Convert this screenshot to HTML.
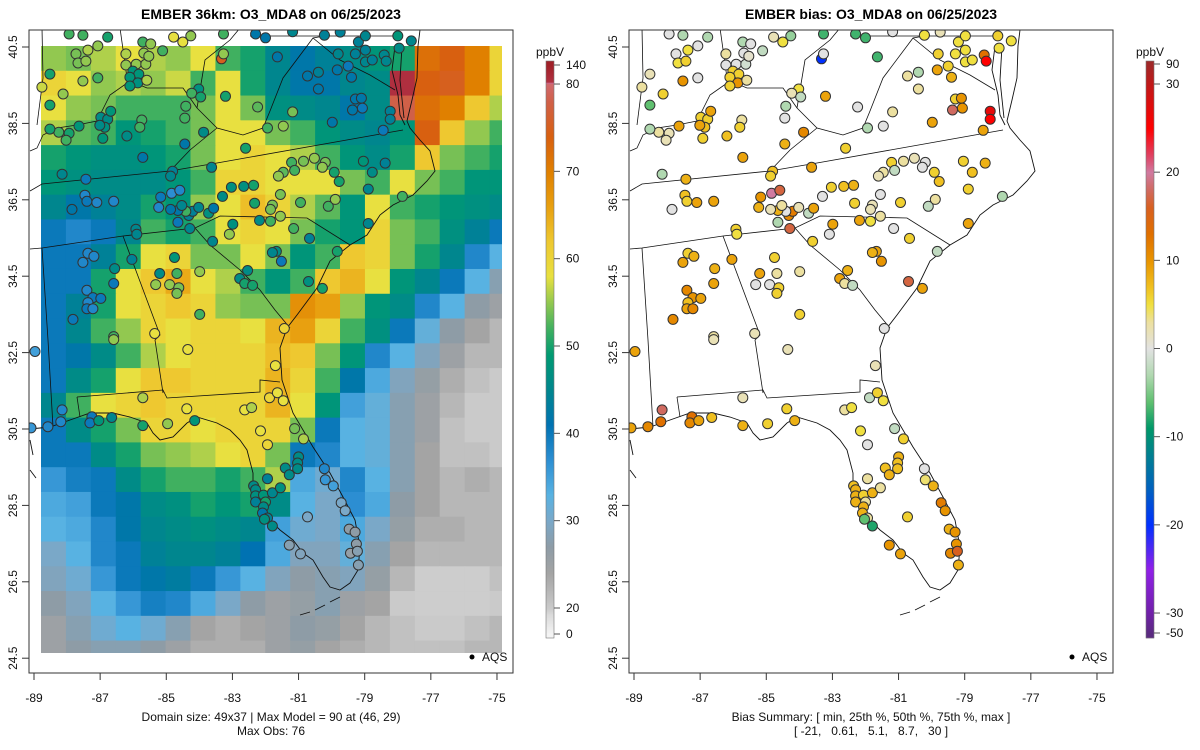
<!DOCTYPE html>
<html><head><meta charset="utf-8"><title>EMBER O3_MDA8</title>
<style>
html,body{margin:0;padding:0;background:#fff;}
svg{display:block;font-family:"Liberation Sans",Arial,sans-serif;}
.pre{white-space:pre;}
</style></head>
<body>
<svg id="fig" width="1200" height="750" viewBox="0 0 1200 750" xmlns="http://www.w3.org/2000/svg">
<defs>
<clipPath id="clipL"><rect x="29" y="30" width="484" height="643"/></clipPath>
<clipPath id="clipR"><rect x="629" y="30" width="484" height="643"/></clipPath>
<clipPath id="clipG"><rect x="41" y="46" width="461" height="607"/></clipPath>
</defs>
<g id="left"></g>
<g id="right"></g>
</svg>
<script>
// ---------- model grid (coarse 19 cols x 25 rows, ppbV) ----------
const gridRows = [
[55,54,56,58,56,55,58,52,50,45,42,44,46,48,50,72,74,70,60],
[60,58,55,56,55,57,52,58,50,45,42,42,45,46,90,74,75,70,60],
[58,55,54,52,52,52,54,58,54,47,46,45,42,46,78,72,70,62,56],
[56,53,52,48,50,52,54,58,58,54,52,48,46,45,48,74,62,55,52],
[50,48,47,47,48,50,54,58,60,58,56,52,48,46,50,62,54,52,50],
[48,47,46,46,46,48,52,60,60,58,58,58,54,52,58,54,52,48,48],
[45,42,44,46,50,48,55,58,63,60,56,53,48,58,52,50,48,47,46],
[40,38,40,45,52,50,52,58,60,58,54,50,48,60,54,52,47,44,40],
[40,40,44,50,58,60,54,54,58,54,48,52,62,60,54,50,45,38,33],
[40,40,50,58,62,65,58,56,52,48,52,62,64,58,48,45,40,33,28],
[40,44,50,58,60,62,60,55,54,54,68,66,55,48,46,38,33,27,25],
[40,45,52,55,60,58,60,60,58,64,66,60,52,47,40,32,27,24,22],
[40,42,46,52,56,58,60,60,60,63,62,54,48,38,33,29,25,22,22],
[40,46,50,58,62,62,60,60,60,64,60,52,42,34,29,26,23,21,20],
[45,52,58,60,62,60,60,60,60,64,58,48,35,32,28,25,22,20,20],
[40,46,50,54,60,60,58,60,60,60,54,40,33,32,28,25,21,20,20],
[40,40,46,50,54,55,56,58,60,54,40,38,33,32,28,24,21,21,20],
[36,39,40,46,50,52,52,50,52,56,34,31,38,33,28,24,22,23,22],
[34,35,40,42,46,47,50,48,50,46,33,30,37,34,27,24,22,22,22],
[33,34,38,42,45,46,47,46,45,35,31,30,34,30,26,23,23,22,22],
[30,33,38,40,44,45,45,44,41,34,29,29,32,28,24,22,22,22,22],
[29,31,36,40,42,43,40,36,33,29,27,28,29,26,22,19,19,19,21],
[27,29,33,36,39,38,34,30,27,25,26,28,25,24,20,19,19,19,20],
[25,28,31,33,31,28,24,23,24,25,27,26,24,22,21,20,20,21,22],
[25,27,28,28,27,25,23,23,23,25,26,24,23,22,21,21,21,22,22]
];
// ---------- AQS stations ----------
const stLon = [-87.94,-87.52,-86.77,-87.07,-87.37,-87.73,-87.67,-87.43,-88.52,-88.76,-87.52,-87.07,-88.12,-88.52,
-86.98,-86.77,-86.68,-86.86,-87.01,-86.92,-87.64,-87.94,-88.25,-88.52,-88.03,
-86.22,-85.71,-85.47,-85.68,-85.11,-86.22,-85.91,-85.62,-85.53,-86.01,-85.83,-86.10,-85.86,-86.10,-85.59,
-84.78,-84.50,-84.26,-83.27,-83.33,-83.27,-84.02,-84.23,-83.96,-83.21,-84.41,-84.44,-85.74,-85.80,-86.19,-83.87,-84.44,-85.71,
-88.15,-87.43,-84.81,-84.87,-83.63,-82.60,-82.24,-81.94,-81.46,-81.18,-81.64,-82.30,-82.00,-81.18,-80.73,-80.40,-80.40,-80.22,-79.74,-79.80,-79.83,-79.50,-79.40,-79.28,-79.19,-78.98,-78.98,-78.77,-78.98,-78.41,-78.35,-78.00,-77.59,-77.96,-79.28,-79.10,-79.07,-79.37,-78.23,-78.23,-78.44,-79.98,
-79.04,-78.38,-78.77,-78.89,-77.86,-81.21,-80.85,-80.52,-80.19,-80.28,-81.12,-81.46,-81.61,-79.92,-79.77,-81.55,-81.79,-81.85,-82.33,-82.36,-82.66,-83.03,-83.30,-80.94,-80.10,-79.89,-81.55,-81.85,-82.18,-82.99,-81.15,-80.67,-79.83,-78.89,-81.67,-81.79,-81.52,-80.70,-80.28,-82.54,-82.78,-82.63,-82.39,-83.09,-83.60,-84.29,-84.32,-84.20,-84.41,-84.65,-84.53,-84.87,-84.02,-83.72,-83.57,-84.65,-85.23,-85.17,-84.84,-84.59,
-85.92,-85.89,-86.59,-87.10,-87.46,-87.40,-87.85,-87.37,-87.19,-87.52,-86.56,-86.59,-86.04,-87.40,-87.22,-86.98,-87.37,-87.40,-87.22,-87.82,-86.59,-85.35,-84.75,-85.20,-84.68,-85.32,-84.90,-84.62,-84.68,-83.99,-83.99,-81.43,
-88.97,-86.59,-84.35,-81.70,-85.71,-84.38,-88.15,-88.19,-88.58,-89.09,-87.25,-87.31,-87.04,-86.65,-85.71,-84.96,-84.14,-82.63,-82.42,-81.88,-81.64,-81.46,-82.15,-81.94,-81.12,-80.85,-81.00,-81.03,-81.03,-81.40,-81.28,-81.94,-80.22,-80.19,-79.95,-79.71,-79.59,-82.36,-82.30,-82.30,-82.06,-82.00,-82.30,-82.06,-81.79,-81.55,-82.09,-81.94,-82.03,-81.79,-80.73,-81.28,-80.94,-79.47,-79.29,-79.25,-79.43,-79.22,-79.19];
const stLat = [40.84,40.81,40.76,40.53,40.42,40.32,40.08,40.13,39.79,39.45,39.61,39.69,39.27,38.98,
38.66,38.61,38.82,38.40,38.45,38.11,38.43,38.24,38.27,38.35,38.06,
40.32,40.63,40.58,40.34,40.40,40.03,40.05,40.05,40.26,39.87,39.79,39.71,39.56,39.48,39.63,
40.76,40.63,40.79,40.84,40.19,40.32,39.40,39.29,39.19,39.21,38.95,38.64,38.59,38.40,38.17,38.27,37.96,37.61,
37.17,37.04,37.25,37.12,37.35,37.85,38.93,38.38,38.43,38.80,40.24,40.84,40.74,40.90,39.74,39.84,39.40,40.81,40.89,40.32,39.90,40.00,39.71,40.32,40.63,40.42,40.11,40.16,40.79,40.29,40.13,40.79,40.66,40.47,39.14,39.16,38.90,38.85,38.82,38.61,38.32,38.53,
37.51,37.46,37.22,36.78,36.59,37.48,37.51,37.59,37.48,37.35,37.27,37.22,37.12,37.22,36.98,36.64,36.36,36.25,36.41,36.88,36.85,36.83,36.59,36.43,36.33,36.51,36.07,35.94,35.96,35.86,35.75,35.49,35.15,35.88,35.15,35.12,34.89,34.36,34.18,34.65,34.44,34.31,34.26,35.60,35.41,35.75,36.09,36.20,36.20,36.22,36.35,36.25,36.30,36.15,36.28,35.91,36.30,36.57,36.67,36.75,
35.73,35.60,36.46,36.43,36.62,36.46,36.25,35.10,35.02,34.86,34.70,34.31,34.94,34.13,33.94,33.92,33.81,33.65,33.65,33.37,32.92,33.00,34.99,34.57,34.57,34.28,34.28,34.20,34.05,34.62,33.50,33.13,
32.53,32.84,32.58,32.16,31.32,31.03,31.00,30.69,30.56,30.53,30.82,30.66,30.72,30.80,30.59,30.64,30.72,31.00,31.06,31.32,31.45,31.24,30.45,30.09,30.51,30.24,29.77,29.61,29.46,29.48,29.30,29.20,29.46,29.17,29.01,28.57,28.36,29.01,28.91,28.75,28.77,28.59,28.59,28.46,28.83,28.96,28.30,28.17,28.14,27.96,28.20,27.46,27.23,27.88,27.80,27.49,27.25,27.30,26.94];
const stObs = [52,52,50,55,56,54,54,55,50,57,55,52,55,50,
46,46,48,47,46,48,48,50,52,50,52,
56,52,55,55,52,55,55,55,55,48,48,48,47,48,56,
58,58,55,52,75,55,47,52,50,50,52,52,52,52,46,46,42,42,
45,40,44,45,45,50,53,52,55,54,42,42,42,45,42,44,42,44,44,45,42,40,42,44,44,44,45,44,45,45,45,48,45,46,42,42,40,42,44,44,40,42,
48,44,46,45,52,52,54,55,54,55,52,53,55,50,50,54,54,54,50,50,47,47,46,52,52,55,55,52,46,47,52,44,50,45,46,45,40,47,50,46,46,50,50,55,45,45,44,44,52,42,45,42,45,47,42,40,38,40,37,38,
45,45,38,38,38,40,42,38,38,38,46,40,44,38,40,40,38,40,38,40,52,58,48,46,52,55,55,54,54,55,52,60,
35,55,58,58,56,58,38,38,38,36,40,40,48,45,50,55,48,58,56,60,58,58,58,60,54,56,46,46,46,46,46,44,38,36,35,30,30,46,46,47,48,50,44,46,45,47,42,44,47,46,30,28,29,27,27,27,26,28,28];
const stBias = [0,-3,-3,0,5,0,5,6,2,3,10,0,6,-6,
6,6,9,7,9,6,9,2,3,-3,2,
3,-3,0,0,-2,0,0,-1,1,6,6,6,10,6,3,
2,5,-4,-7,-20,0,5,2,-2,9,-3,0,3,6,7,11,8,9,
-3,8,7,6,9,6,0,-3,0,3,-7,-7,-7,0,3,-3,3,5,2,6,9,6,8,5,5,5,5,5,5,13,25,6,5,5,6,10,10,18,27,25,9,9,
6,8,7,6,-3,6,3,2,0,0,-2,3,2,6,7,0,2,2,6,8,7,6,0,6,-2,3,3,5,9,9,0,6,-2,9,9,8,10,17,9,8,9,3,-2,0,6,17,11,12,0,8,3,2,2,-2,9,-3,8,10,20,17,
6,5,9,9,7,6,0,6,8,9,8,9,9,11,10,9,7,9,11,11,3,2,6,9,3,0,0,6,6,3,6,0,
9,2,2,2,2,6,18,13,11,9,13,11,9,7,8,6,8,3,5,-2,6,5,5,0,-2,6,8,7,7,7,8,3,0,4,8,12,10,7,8,8,6,3,8,8,8,3,8,3,-6,-8,6,10,9,8,10,10,11,16,8];
// ---------- axes tick labels ----------
const lonTicks = [-89,-87,-85,-83,-81,-79,-77,-75];
const latTicks = [40.5,38.5,36.5,34.5,32.5,30.5,28.5,26.5,24.5];
const ppbTickVals = [140,80,70,60,50,40,30,20,0];
const biasTickVals = [90,30,20,10,0,-10,-20,-30,-50];

// ---------- scales ----------
const NS='http://www.w3.org/2000/svg';
function xLon(lon,off){return off+34+(lon+89)*33.07;}
function yLat(lat){return 47+(40.5-lat)*38.2;}
function hex2rgb(h){return [parseInt(h.substr(1,2),16),parseInt(h.substr(3,2),16),parseInt(h.substr(5,2),16)];}
function interp(stops,v){
  if(v<=stops[0][0])return stops[0][1];
  for(let i=1;i<stops.length;i++){
    if(v<=stops[i][0]){
      const t=(v-stops[i-1][0])/(stops[i][0]-stops[i-1][0]);
      const a=hex2rgb(stops[i-1][1]),b=hex2rgb(stops[i][1]);
      return 'rgb('+a.map((c,k)=>Math.round(c+(b[k]-c)*t)).join(',')+')';
    }
  }
  return stops[stops.length-1][1];
}
const ppbStops=[[0,'#f4f4f4'],[15,'#dadada'],[20,'#cacaca'],[24,'#a4a4a4'],[27,'#8e9ca6'],[30,'#7aa8c8'],[33,'#58b2e2'],[37,'#2c8ed2'],[41,'#0072b2'],[45,'#00868e'],[49,'#009a72'],[52,'#40b060'],[55,'#92c850'],[58,'#e8e040'],[62,'#eec830'],[66,'#e8a010'],[70,'#e08000'],[74,'#d86010'],[78,'#d06048'],[82,'#d07090'],[88,'#b03040'],[140,'#a02028']];
const biasStops=[[-50,'#5a2a80'],[-30,'#7020a8'],[-25,'#9020e8'],[-20,'#0030ff'],[-16,'#0060c0'],[-12,'#008090'],[-9,'#009868'],[-6,'#60c070'],[-3,'#b0d8b0'],[0,'#e2e2e2'],[3,'#ece0a0'],[5,'#f0e040'],[7,'#f0c020'],[10,'#e89400'],[13,'#e07000'],[16,'#d86020'],[18,'#d06a60'],[20,'#d07aa0'],[22,'#e04060'],[25,'#ff0000'],[30,'#c01818'],[90,'#a02828']];
function ppbY(v){ if(v<=20) return 634-v/20*26; if(v<=80) return 608-(v-20)*8.733; return 84-(v-80)/60*19; }
function biasY(v){ if(v>=30) return 84-(v-30)/60*20; if(v>=-30) return 84+(30-v)*8.817; return 613+(-30-v)/20*20; }

function el(tag,attrs,parent,txt){const e=document.createElementNS(NS,tag);for(const k in attrs)e.setAttribute(k,attrs[k]);if(txt!==undefined)e.textContent=txt;parent.appendChild(e);return e;}

// map geometry (left-panel pixel coords)
const coast="M420,30 L418,46 417,78 412,100 407,121 410,128 420,140 430,151 435,171 427,181 413,195 393,205 380,215 367,235 350,245 330,261 317,288 297,315 287,328 280,348 282,380 293,413 313,447 330,473 343,497 355,520 360,547 358,570 350,583 340,590 330,587 323,577 313,560 303,553 293,540 280,530 270,520 263,507 253,487 253,473 247,450 240,440 230,430 217,423 197,417 187,423 173,437 160,440 153,433 147,423 130,417 113,413 90,413 70,420 50,427 30,429 M395,46 L392,70 398,95 400,115 405,125 M402,46 L400,80 404,118 M340,597 L330,602 M325,605 L315,610 M310,612 L300,615 M30,440 L33,455 M30,470 L36,478";
const states="M30,191 L42,184 170,171 217,163 403,130 M30,249 L42,248 123,236 195,228 220,216 307,218 350,245 M195,228 L210,245 240,270 260,290 275,310 290,328 M123,236 L160,335 155,340 163,393 M77,397 L80,417 M77,397 L163,390 167,398 260,392 260,380 280,382 M42,248 L48,340 53,427 M170,171 L190,150 217,128 M197,108 L217,128 243,135 263,128 270,111 283,78 313,38 330,35 M197,108 L183,88 147,88 130,81 110,95 97,121 77,125 57,128 43,135 37,148 30,151 M120,28 L127,78 M42,28 L43,78 37,125 M250,36 L395,36 M197,108 L205,60 230,40 240,28 M313,38 L340,60 370,75 395,90";

function drawPanel(gid,off,isBias){
  const g=document.getElementById(gid);
  const cg=el('g',{'clip-path':isBias?'url(#clipR)':'url(#clipL)'},g);
  if(!isBias){
    const gg=el('g',{'clip-path':'url(#clipG)'},cg);
    
    
    const cw=461/37*2, ch=607/49*2;
    gridRows.forEach((row,r)=>row.forEach((v,c)=>{
      const rc=el('rect',{x:(41+c*cw).toFixed(2),y:(46+r*ch).toFixed(2),width:(cw+0.6).toFixed(2),height:(ch+0.6).toFixed(2),fill:interp(ppbStops,v)},gg);
      
      
    }));
  }
  const ml=el('g',{transform:'translate('+off+',0)',fill:'none',stroke:'#111','stroke-width':'0.9'},cg);
  const p1=el('path',{d:coast},ml);
  
  
  const p2=el('path',{d:states,'stroke-width':'0.8'},ml);
  
  
  const sg=el('g',{stroke:'#333','stroke-width':'1'},cg);
  
  
  for(let i=0;i<stLon.length;i++){
    const v=isBias?stBias[i]:stObs[i];
    const c=el('circle',{cx:xLon(stLon[i],off).toFixed(1),cy:yLat(stLat[i]).toFixed(1),r:5,fill:isBias?interp(biasStops,v):interp(ppbStops,v)},sg);
    
    
  }
  const fr=el('rect',{x:29+off,y:30,width:484,height:643,fill:'none',stroke:'#333','stroke-width':'1'},g);
  
  
  lonTicks.forEach(t=>{
    const x=xLon(t,off);
    el('line',{x1:x,y1:673,x2:x,y2:680,stroke:'#333'},g);
    const tx=el('text',{x:x,y:702,'font-size':'12','text-anchor':'middle',fill:'#111'},g,String(t));
    
    
  });
  latTicks.forEach(t=>{
    const y=yLat(t);
    el('line',{x1:22+off,y1:y,x2:29+off,y2:y,stroke:'#333'},g);
    const tx=el('text',{x:0,y:0,'font-size':'12','text-anchor':'middle',fill:'#111',transform:'translate('+(17+off)+','+y+') rotate(-90)'},g,t.toFixed(1));
    
    
  });
  const lg=el('g',{},g);
  
  
  el('circle',{cx:472+off,cy:657,r:2.5,fill:'#000'},lg);
  el('text',{x:482+off,y:661,'font-size':'12',fill:'#111'},lg,'AQS');
  const tt=el('text',{x:271+off,y:19,'font-size':'14','font-weight':'bold','text-anchor':'middle',fill:'#000'},g,isBias?'EMBER bias: O3_MDA8 on 06/25/2023':'EMBER 36km: O3_MDA8 on 06/25/2023');
  
  
  const s1=el('text',{x:271+off,y:721,'font-size':'12','text-anchor':'middle',fill:'#111'},g,isBias?'Bias Summary: [ min, 25th %, 50th %, 75th %, max ]':'Domain size: 49x37 | Max Model = 90 at (46, 29)');
  
  
  const s2=el('text',{x:271+off,y:735,'font-size':'12','text-anchor':'middle',fill:'#111','class':'pre'},g,isBias?'[ -21,   0.61,   5.1,   8.7,   30 ]':'Max Obs: 76');
  
  
  const cb=el('g',{},g);
  
  
  const bx=546+off;
  for(let yy=61;yy<638;yy++){
    let v;
    if(isBias){ if(yy<84) v=30+(84-yy)/20*60; else if(yy<=613) v=30-(yy-84)/8.817; else v=-30-(yy-613)/20*20; }
    else { if(yy<84) v=80+(84-yy)/19*60; else if(yy<=608) v=20+(608-yy)/8.733; else v=(634-yy)/26*20; }
    el('rect',{x:bx,y:yy,width:8,height:1.2,fill:isBias?interp(biasStops,v):interp(ppbStops,Math.max(0,v))},cb);
  }
  el('rect',{x:bx,y:61,width:8,height:577,fill:'none',stroke:'#777','stroke-width':'0.6'},cb);
  (isBias?biasTickVals:ppbTickVals).forEach(t=>{
    const y=isBias?biasY(t):ppbY(t);
    el('line',{x1:bx+8,y1:y,x2:bx+14,y2:y,stroke:'#555'},cb);
    const tx=el('text',{x:bx+20,y:y+4,'font-size':'12',fill:'#111'},cb,String(t));
    
    
  });
  const un=el('text',{x:bx+4,y:56,'font-size':'12','text-anchor':'middle',fill:'#111'},cb,'ppbV');
  
  
}
drawPanel('left',0,false);
drawPanel('right',600,true);
</script>
</body></html>
